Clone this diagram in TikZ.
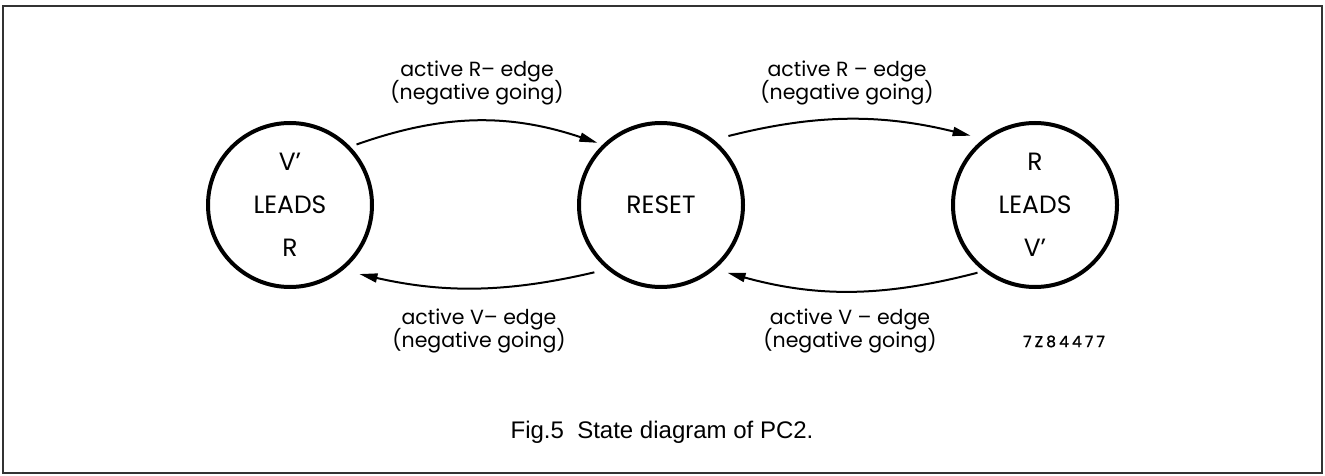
\documentclass[tikz,border=0pt]{standalone}
\usepackage{fontspec}
\setmainfont{Poppins}
\newfontfamily\capfont{Liberation Sans}
\newfontfamily\codefont[FakeBold=1.2,LetterSpace=20]{Poppins}
\usetikzlibrary{arrows.meta}
\begin{document}
\begin{tikzpicture}[x=1pt,y=1pt,
  state/.style={circle, draw, line width=4pt, minimum size=164pt, inner sep=0pt,
    font=\fontsize{25}{43}\selectfont, align=center},
  lbl/.style={anchor=base, font=\fontsize{20.5}{24}\selectfont},
  arr/.style={line width=2pt, -{Triangle[length=18pt,width=9pt]}},
  frame/.style={line width=2pt, draw=black!80}
]
\useasboundingbox (0,0) rectangle (1325,475);
\draw[frame] (3,2) rectangle (1322,469);

\node[state] (L) at (290,270) {V’\\LEADS\\R};
\node[state] (M) at (661,270) {RESET};
\node[state] (R) at (1035,270) {R\\LEADS\\V’};

\draw[arr, shorten <=6.5pt, shorten >=5.5pt] (L.44) to[bend left=19] (M.134);
\draw[arr, shorten <=15pt, shorten >=13pt] (M.51) to[bend left=14] (R.128);
\draw[arr, shorten <=13pt, shorten >=17pt] (M.230) to[bend left=13] (L.309);
\draw[arr, shorten <=6pt, shorten >=13pt] (R.232) to[bend left=15] (M.310);

\node[lbl] (t1a) at (477,398) {active R– edge};
\node[lbl] (t1b) at (477,375) {(negative going)};
\node[lbl] (t2a) at (847,398) {active R – edge};
\node[lbl] (t2b) at (847,375) {(negative going)};
\node[lbl] (b1a) at (479,151) {active V– edge};
\node[lbl] (b1b) at (479,128) {(negative going)};
\node[lbl] (b2a) at (850,151) {active V – edge};
\node[lbl] (b2b) at (850,128) {(negative going)};
\node[anchor=base west, inner sep=0pt, font=\codefont\fontsize{15.5}{18}\selectfont] (code) at (1023,128) {7Z84477};
\node[anchor=base, font=\capfont\fontsize{24}{28}\selectfont] (cap) at (662,37) {Fig.5\ \ State diagram of PC2.};
\end{tikzpicture}
\end{document}
